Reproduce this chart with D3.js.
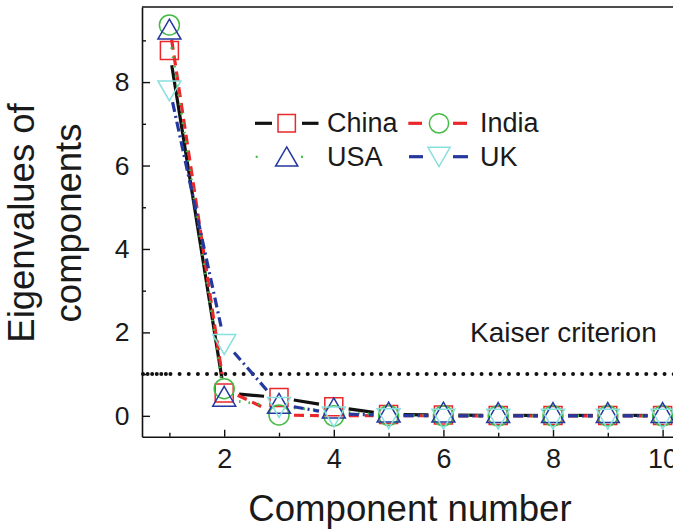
<!DOCTYPE html>
<html>
<head>
<meta charset="utf-8">
<script src="https://cdn.jsdelivr.net/npm/d3@7"></script>
<style>
  html, body { margin: 0; padding: 0; background: #ffffff; }
  svg { display: block; }
  text { font-family: "Liberation Sans", Arial, Helvetica, sans-serif; fill: #1a1a1a; }
</style>
</head>
<body>
<div id="chart"></div>
<script>
// Scree plot: eigenvalues of the first ten principal components per country
const components = [1, 2, 3, 4, 5, 6, 7, 8, 9, 10];
const china = [8.76, 0.55, 0.44, 0.22, 0.03, 0.02, 0.01, 0.01, 0.01, 0.01];
const india = [9.37, 0.65, 0.02, 0.00, 0.01, 0.00, 0.00, 0.00, 0.00, 0.00];
const usa   = [9.19, 0.39, 0.22, 0.11, 0.01, 0.01, 0.00, 0.00, 0.00, 0.00];
const uk    = [7.87, 1.79, 0.28, 0.05, 0.01, 0.00, 0.00, 0.00, 0.00, 0.00];
const seriesNames = ["China", "India", "USA", "UK"];
const xTicks = [2, 4, 6, 8, 10];
const xMinorTicks = [1, 3, 5, 7, 9];
const yTicks = [0, 2, 4, 6, 8];
const yMinorTicks = [1, 3, 5, 7, 9];
const kaiserThreshold = 1;

const W = 673, H = 529;
const svg = d3.select("#chart").append("svg")
  .attr("width", W).attr("height", H);

const x = d3.scaleLinear().domain([0.5, 10.5]).range([142, 690]);
const y = d3.scaleLinear().domain([-0.5, 9.8]).range([436.7, 7]);

const RED = "#e8282b", GREEN = "#44bb44", BLUE = "#24389f", CYAN = "#86e0de";

const styles = {
  China: { line: "#111111", dash: null, width: 3.2, marker: d3.symbolSquare, size: 324, rot: 0, mcol: RED },
  India: { line: RED, dash: "10,6", width: 3.2, marker: d3.symbolCircle, size: 314, rot: 0, mcol: GREEN },
  USA:   { line: GREEN, dash: "1.5,8", width: 2.8, marker: d3.symbolTriangle, size: 229, rot: 0, mcol: BLUE },
  UK:    { line: BLUE, dash: "10,4,2,4", width: 3.2, marker: d3.symbolTriangle, size: 229, rot: 180, mcol: CYAN }
};
const seriesValues = { China: china, India: india, USA: usa, UK: uk };

// Axes
const gx = svg.append("g").attr("transform", `translate(0,${y.range()[0]})`)
  .call(d3.axisBottom(x).tickValues(xTicks).tickSize(-7).tickSizeOuter(0).tickPadding(12.4)
    .tickFormat(d3.format("d")));
svg.append("g").attr("transform", `translate(0,${y.range()[0]})`)
  .call(d3.axisBottom(x).tickValues(xMinorTicks).tickSize(-4).tickSizeOuter(0).tickFormat(""))
  .call(g => g.select(".domain").remove());

const gy = svg.append("g").attr("transform", `translate(${x.range()[0]},0)`)
  .call(d3.axisLeft(y).tickValues(yTicks).tickSize(-8).tickSizeOuter(0).tickPadding(12.5)
    .tickFormat(d3.format("d")));
svg.append("g").attr("transform", `translate(${x.range()[0]},0)`)
  .call(d3.axisLeft(y).tickValues(yMinorTicks).tickSize(-4).tickSizeOuter(0).tickFormat(""))
  .call(g => g.select(".domain").remove());

svg.selectAll(".domain").attr("stroke", "#111").attr("stroke-width", 1.6);
svg.selectAll(".tick line").attr("stroke", "#111").attr("stroke-width", 1.4);
gx.selectAll(".tick text").attr("font-size", 27).attr("fill", "#1a1a1a")
  .style("font-family", "'Liberation Sans', Arial, sans-serif");
gy.selectAll(".tick text").attr("font-size", 26.5).attr("fill", "#1a1a1a")
  .style("font-family", "'Liberation Sans', Arial, sans-serif");

// top frame line
svg.append("line")
  .attr("x1", x.range()[0]).attr("x2", x.range()[1])
  .attr("y1", y.range()[1]).attr("y2", y.range()[1])
  .attr("stroke", "#111").attr("stroke-width", 1.6);

// Axis titles
svg.append("text").attr("x", 410).attr("y", 521)
  .attr("text-anchor", "middle").attr("font-size", 36.6).text("Component number");
const yTitle = svg.append("g").attr("transform", "translate(0,223) rotate(-90)");
yTitle.append("text").attr("x", 0).attr("y", 34)
  .attr("text-anchor", "middle").attr("font-size", 36.5).text("Eigenvalues of");
yTitle.append("text").attr("x", 0).attr("y", 81)
  .attr("text-anchor", "middle").attr("font-size", 36.5).text("components");

// Kaiser criterion reference line (eigenvalue = 1)
const ky = y(kaiserThreshold);
svg.append("line")
  .attr("x1", x.range()[0] + 1).attr("x2", x.range()[1])
  .attr("y1", ky).attr("y2", ky)
  .attr("stroke", "#111").attr("stroke-width", 4)
  .attr("stroke-linecap", "round").attr("stroke-dasharray", "0,9.15");
svg.append("line")
  .attr("x1", x.range()[0] + 5.6).attr("x2", x(1.08))
  .attr("y1", ky).attr("y2", ky)
  .attr("stroke", "#111").attr("stroke-width", 4)
  .attr("stroke-linecap", "round").attr("stroke-dasharray", "0,9.15");
svg.append("text").attr("x", 470).attr("y", 341.7)
  .attr("font-size", 28).text("Kaiser criterion");

// Series: line segments leave a gap around each symbol
const GAP = 15;
function gappedSegments(vals) {
  const pts = components.map((c, i) => [x(c), y(vals[i])]);
  const segs = [];
  for (let i = 0; i < pts.length - 1; i++) {
    const [x0, y0] = pts[i], [x1, y1] = pts[i + 1];
    const dx = x1 - x0, dy = y1 - y0, L = Math.hypot(dx, dy);
    if (L <= 2 * GAP + 1) continue;
    const ux = dx / L, uy = dy / L;
    segs.push([[x0 + ux * GAP, y0 + uy * GAP], [x1 - ux * GAP, y1 - uy * GAP]]);
  }
  return segs;
}

const lineGen = d3.line();
seriesNames.forEach(name => {
  const s = styles[name];
  const g = svg.append("g").attr("class", "series-" + name);
  g.selectAll("path.seg").data(gappedSegments(seriesValues[name])).join("path")
    .attr("class", "seg")
    .attr("d", d => lineGen(d))
    .attr("fill", "none")
    .attr("stroke", s.line)
    .attr("stroke-width", s.width)
    .attr("stroke-dasharray", s.dash);
});
seriesNames.forEach(name => {
  const s = styles[name];
  const sym = d3.symbol().type(s.marker).size(s.size);
  svg.append("g").selectAll("path.mk").data(components).join("path")
    .attr("class", "mk")
    .attr("transform", (c, i) => `translate(${x(c)},${y(seriesValues[name][i])}) rotate(${s.rot})`)
    .attr("d", sym)
    .attr("fill", "none")
    .attr("stroke", s.mcol)
    .attr("stroke-width", 1.5);
});

// Legend
const legendItems = [
  { name: "China", cx: 286.7, cy: 123.3, tx: 327, ty: 132, segs: [[255, 272], [302, 318.5]], dots: false },
  { name: "India", cx: 439, cy: 123.3, tx: 480, ty: 132, segs: [[408.3, 422], [453, 467]], dots: false },
  { name: "USA",   cx: 286.7, cy: 156.7, tx: 327, ty: 166, segs: [[256.7], [302]], dots: true },
  { name: "UK",    cx: 439, cy: 156.7, tx: 480, ty: 166, segs: [[409, 423], [453, 468]], dots: false }
];
const lg = svg.append("g").attr("class", "legend");
legendItems.forEach(item => {
  const s = styles[item.name];
  item.segs.forEach(seg => {
    if (item.dots) {
      lg.append("rect").attr("x", seg[0] - 1).attr("y", item.cy - 1)
        .attr("width", 2).attr("height", 2.2).attr("fill", s.line);
    } else {
      lg.append("line").attr("x1", seg[0]).attr("x2", seg[1])
        .attr("y1", item.cy).attr("y2", item.cy)
        .attr("stroke", s.line).attr("stroke-width", s.width);
    }
  });
  const sym = d3.symbol().type(s.marker).size(s.size * 0.93);
  lg.append("path")
    .attr("transform", `translate(${item.cx},${item.cy + (s.marker === d3.symbolTriangle ? (s.rot ? -3 : 3) : 0)}) rotate(${s.rot})`)
    .attr("d", sym).attr("fill", "none").attr("stroke", s.mcol).attr("stroke-width", 1.5);
  lg.append("text").attr("x", item.tx).attr("y", item.ty)
    .attr("font-size", 27).text(item.name);
});
</script>
</body>
</html>
